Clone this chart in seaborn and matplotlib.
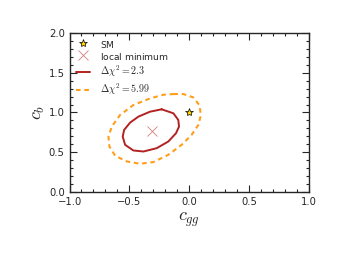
import numpy as np
import pandas as pd
import matplotlib
matplotlib.use("Agg")
import matplotlib.pyplot as plt
import seaborn as sns
from matplotlib.ticker import MultipleLocator

sns.set_style("ticks")
plt.rcParams["font.family"] = ["DejaVu Sans"]
plt.rcParams["mathtext.fontset"] = "cm"

# contour points
inner_cgg = [-0.231, -0.133, -0.092, -0.086, -0.111, -0.175, -0.272, -0.383,
             -0.467, -0.536, -0.556, -0.544, -0.494, -0.425, -0.328, -0.231]
inner_cb = [1.040, 0.990, 0.906, 0.823, 0.739, 0.635, 0.551, 0.509,
            0.522, 0.593, 0.697, 0.781, 0.873, 0.948, 1.010, 1.040]

outer_cgg = [-0.133, -0.050, 0.033, 0.083, 0.097, 0.075, 0.019, -0.064,
             -0.175, -0.300, -0.411, -0.522, -0.619, -0.667, -0.675, -0.647,
             -0.578, -0.467, -0.328, -0.217, -0.133]
outer_cb = [1.232, 1.232, 1.190, 1.094, 0.969, 0.843, 0.718, 0.593,
            0.468, 0.376, 0.355, 0.384, 0.455, 0.572, 0.697, 0.823,
            0.969, 1.094, 1.177, 1.223, 1.232]

sm = (0.0, 1.0)
local_min = (-0.308, 0.768)

labels = ["SM", "local minimum", r"$\Delta\chi^2 = 2.3$", r"$\Delta\chi^2 = 5.99$"]

inner = pd.DataFrame({"cgg": inner_cgg, "cb": inner_cb})
outer = pd.DataFrame({"cgg": outer_cgg, "cb": outer_cb})

fig, ax = plt.subplots(figsize=(3.45, 2.58), dpi=100)
fig.subplots_adjust(left=0.2015, right=0.896, top=0.872, bottom=0.256)

h_sm, = ax.plot(sm[0], sm[1], "*", color="gold", mec="black", mew=0.5,
                ms=6, ls="none")
h_min, = ax.plot(local_min[0], local_min[1], "x", color="indianred", ms=7,
                 mew=0.6, ls="none", alpha=0.8)
sns.lineplot(data=inner, x="cgg", y="cb", sort=False, estimator=None,
             color="#b22222", lw=1.4, ax=ax, legend=False)
sns.lineplot(data=outer, x="cgg", y="cb", sort=False, estimator=None,
             color="#ff9e1b", lw=1.5, ls=(0, (2.2, 1.8)), ax=ax, legend=False)
h_in, h_out = ax.get_lines()[-2:]

ax.set_xlim(-1, 1)
ax.set_ylim(0, 2)
ax.xaxis.set_major_locator(MultipleLocator(0.5))
ax.yaxis.set_major_locator(MultipleLocator(0.5))
ax.xaxis.set_minor_locator(MultipleLocator(0.1))
ax.yaxis.set_minor_locator(MultipleLocator(0.1))
ax.tick_params(which="both", direction="in", top=True, right=True,
               labelsize=7.2, width=0.8)
ax.tick_params(which="major", length=5)
ax.tick_params(which="minor", length=2.5)
for s in ax.spines.values():
    s.set_linewidth(1.0)

ax.set_xlabel(r"$c_{gg}$", fontsize=13, labelpad=3)
ax.set_ylabel(r"$c_b$", fontsize=13, labelpad=1)

# plain labels get an invisible math strut so every legend row is the same height
struts = [lab if "$" in lab else lab + r"$\mathregular{^{\,}_{\,}}$"
          for lab in labels]
leg = ax.legend([h_sm, h_min, h_in, h_out], struts,
                loc="upper left", frameon=False, fontsize=6.6,
                handlelength=1.5, borderaxespad=0.3, labelspacing=0.32,
                handletextpad=1.1)
for t in leg.get_texts()[2:]:
    t.set_fontsize(7.2)

fig.savefig("out.png", dpi=100)
